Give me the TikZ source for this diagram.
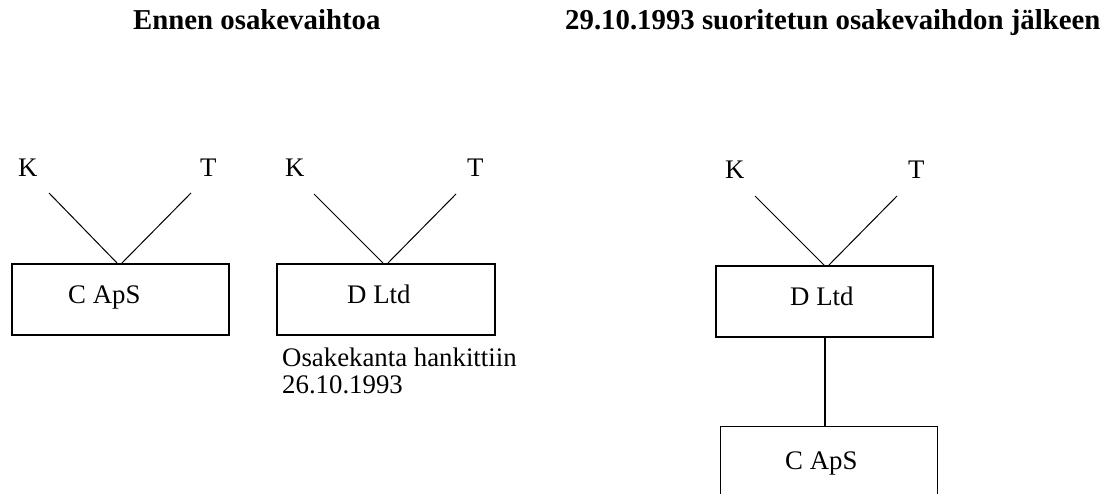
\documentclass[tikz,border=0pt]{standalone}
\usepackage{fontspec}
\setmainfont{Liberation Serif}
\begin{document}
\begin{tikzpicture}[x=1pt,y=-1pt,
  txt/.style={inner sep=0pt,anchor=base west,font=\fontsize{26.8}{32}\selectfont},
  title/.style={inner sep=0pt,anchor=base west,font=\fontsize{28.8}{34}\selectfont\bfseries},
  box/.style={draw,line width=1.4pt,rectangle,minimum width=217pt,minimum height=71pt,inner sep=0pt},
  link/.style={line width=1pt}]
\clip (0,0) rectangle (1110,494);
\fill[white] (0,0) rectangle (1110,494);

% headings
\node[title] (h1) at (133,30) {Ennen osakevaihtoa};
\node[title] (h2) at (565,30) {29.10.1993 suoritetun osakevaihdon jälkeen};

% --- before the exchange: C ApS ---
\node[txt] (k1) at (18,177) {K};
\node[txt] (t1) at (200,177) {T};
\node[box] (c1) at (120.5,299.5) {};
\node[txt] (c1l) at (68,303) {C ApS};
\coordinate (k1e) at (49,193);
\coordinate (t1e) at (191,193);
\coordinate (c1a) at (118,264);
\coordinate (c1b) at (121,264);
\draw[link] (k1e) -- (c1a);
\draw[link] (t1e) -- (c1b);

% --- before the exchange: D Ltd ---
\node[txt] (k2) at (285,177) {K};
\node[txt] (t2) at (467,177) {T};
\node[box,minimum width=218pt] (d1) at (386,299.5) {};
\node[txt] (d1l) at (347,303) {D Ltd};
\coordinate (k2e) at (314,194);
\coordinate (t2e) at (456,194);
\coordinate (d1a) at (384,264);
\coordinate (d1b) at (387,264);
\draw[link] (k2e) -- (d1a);
\draw[link] (t2e) -- (d1b);
\node[txt] (n1) at (282,366) {Osakekanta hankittiin};
\node[txt] (n2) at (282,393) {26.10.1993};

% --- after the exchange ---
\node[txt] (k3) at (725,179) {K};
\node[txt] (t3) at (908,179) {T};
\node[box] (d2) at (824.5,301.5) {};
\node[txt] (d2l) at (790,305) {D Ltd};
\coordinate (k3e) at (755,196);
\coordinate (t3e) at (897,196);
\coordinate (d2a) at (825,266);
\coordinate (d2b) at (828,266);
\draw[link] (k3e) -- (d2a);
\draw[link] (t3e) -- (d2b);
\node[box,minimum height=90pt,anchor=north west] (c2) at (720,426) {};
\node[txt] (c2l) at (785,469) {C ApS};
\draw[line width=1.3pt] (d2.south -| 825,0) -- (c2.north -| 825,0);
\end{tikzpicture}
\end{document}
